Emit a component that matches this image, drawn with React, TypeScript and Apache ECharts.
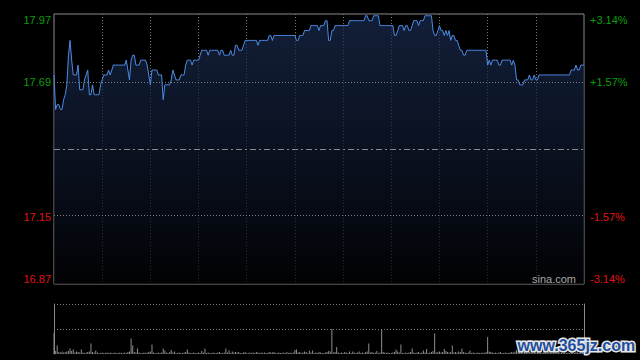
import React, { useEffect, useRef } from "react";
import * as echarts from "echarts";

// ---- reference levels ----
const PREV_CLOSE = 17.42;
const PRICE_MIN = 16.873;
const PRICE_MAX = 17.967;
const PRICE_STEP = 0.2735;
const VOLUME_MAX = 100;
const VOLUME_STEP = 50;

// ---- time categories (HK session, lunch break collapsed) ----
const pad = (n: number) => (n < 10 ? "0" + n : "" + n);
const buildTimes = (): string[] => {
  const out: string[] = [];
  for (let m = 9 * 60 + 30; m <= 12 * 60; m++) out.push(pad(Math.floor(m / 60)) + ":" + pad(m % 60));
  for (let m = 13 * 60 + 1; m <= 16 * 60; m++) out.push(pad(Math.floor(m / 60)) + ":" + pad(m % 60));
  return out;
};
const times = buildTimes();

// ---- minute prices ----
const prices = [
  17.72, 17.58, 17.60, 17.60, 17.58, 17.58, 17.62, 17.64, 17.68, 17.80,
  17.86, 17.78, 17.72, 17.72, 17.72, 17.76, 17.66, 17.66, 17.66, 17.70,
  17.72, 17.74, 17.64, 17.64, 17.68, 17.64, 17.64, 17.64, 17.64, 17.68,
  17.70, 17.72, 17.72, 17.72, 17.74, 17.72, 17.74, 17.76, 17.76, 17.76,
  17.76, 17.76, 17.76, 17.76, 17.76, 17.78, 17.74, 17.70, 17.78, 17.80,
  17.80, 17.76, 17.76, 17.76, 17.78, 17.78, 17.78, 17.78, 17.76, 17.72,
  17.68, 17.74, 17.74, 17.74, 17.74, 17.72, 17.72, 17.72, 17.62, 17.68,
  17.68, 17.68, 17.68, 17.70, 17.74, 17.72, 17.70, 17.70, 17.70, 17.72,
  17.72, 17.72, 17.76, 17.78, 17.78, 17.78, 17.76, 17.78, 17.78, 17.78,
  17.78, 17.80, 17.82, 17.82, 17.82, 17.82, 17.80, 17.82, 17.82, 17.82,
  17.82, 17.82, 17.82, 17.80, 17.82, 17.82, 17.80, 17.80, 17.80, 17.80,
  17.82, 17.80, 17.80, 17.84, 17.84, 17.82, 17.82, 17.82, 17.84, 17.86,
  17.86, 17.86, 17.86, 17.86, 17.86, 17.86, 17.86, 17.84, 17.86, 17.86,
  17.86, 17.86, 17.86, 17.86, 17.88, 17.88, 17.86, 17.88, 17.88, 17.88,
  17.88, 17.88, 17.88, 17.88, 17.88, 17.88, 17.88, 17.88, 17.88, 17.88,
  17.88, 17.86, 17.86, 17.88, 17.88, 17.88, 17.90, 17.90, 17.90, 17.90,
  17.92, 17.92, 17.92, 17.92, 17.92, 17.90, 17.92, 17.92, 17.92, 17.94,
  17.94, 17.86, 17.86, 17.90, 17.90, 17.92, 17.92, 17.92, 17.92, 17.92,
  17.92, 17.92, 17.92, 17.92, 17.94, 17.94, 17.94, 17.94, 17.94, 17.94,
  17.94, 17.94, 17.94, 17.94, 17.96, 17.96, 17.94, 17.94, 17.94, 17.96,
  17.96, 17.96, 17.96, 17.92, 17.92, 17.92, 17.92, 17.92, 17.92, 17.92,
  17.92, 17.92, 17.88, 17.88, 17.90, 17.92, 17.92, 17.92, 17.90, 17.92,
  17.92, 17.90, 17.90, 17.92, 17.94, 17.94, 17.94, 17.92, 17.94, 17.94,
  17.94, 17.96, 17.96, 17.96, 17.96, 17.96, 17.90, 17.88, 17.88, 17.90,
  17.92, 17.90, 17.90, 17.88, 17.90, 17.88, 17.90, 17.86, 17.88, 17.88,
  17.86, 17.86, 17.84, 17.82, 17.82, 17.80, 17.80, 17.82, 17.82, 17.82,
  17.82, 17.82, 17.82, 17.82, 17.82, 17.82, 17.82, 17.82, 17.82, 17.82,
  17.76, 17.78, 17.76, 17.78, 17.78, 17.78, 17.78, 17.76, 17.76, 17.78,
  17.78, 17.78, 17.78, 17.78, 17.78, 17.76, 17.78, 17.76, 17.70, 17.70,
  17.68, 17.68, 17.68, 17.70, 17.70, 17.70, 17.72, 17.70, 17.70, 17.72,
  17.70, 17.70, 17.72, 17.72, 17.72, 17.72, 17.72, 17.72, 17.72, 17.72,
  17.72, 17.72, 17.72, 17.72, 17.72, 17.72, 17.72, 17.72, 17.72, 17.72,
  17.72, 17.72, 17.74, 17.74, 17.74, 17.76, 17.74, 17.74, 17.76, 17.76,
  17.76,
];

// ---- minute volumes (relative units) ----
const volumes = [
  42, 6, 17, 4, 3, 5, 3, 4, 5, 6,
  11, 6, 9, 3, 5, 4, 3, 9, 3, 2,
  3, 4, 5, 21, 4, 3, 7, 3, 2, 2,
  3, 2, 2, 3, 2, 3, 2, 2, 3, 2,
  2, 3, 2, 2, 3, 2, 4, 5, 31, 17,
  4, 3, 11, 3, 2, 2, 3, 2, 3, 4,
  5, 19, 3, 2, 2, 3, 2, 3, 11, 7,
  3, 2, 4, 8, 3, 5, 2, 2, 3, 2,
  2, 3, 4, 9, 3, 2, 2, 3, 2, 2,
  3, 2, 6, 3, 11, 2, 3, 2, 2, 3,
  2, 2, 3, 4, 2, 2, 3, 11, 3, 7,
  2, 5, 3, 4, 3, 4, 2, 2, 3, 4,
  2, 2, 3, 2, 3, 2, 4, 3, 2, 3,
  2, 3, 2, 2, 4, 3, 3, 4, 2, 2,
  3, 2, 2, 3, 2, 4, 2, 3, 2, 3,
  8, 9, 3, 4, 2, 3, 5, 4, 2, 7,
  3, 7, 2, 3, 2, 4, 3, 2, 2, 3,
  4, 6, 5, 50, 3, 4, 14, 3, 2, 3,
  2, 4, 3, 2, 5, 2, 5, 3, 2, 3,
  5, 2, 3, 2, 4, 5, 21, 3, 4, 2,
  3, 6, 2, 3, 50, 4, 3, 2, 3, 2,
  2, 3, 4, 9, 5, 3, 19, 2, 2, 3,
  2, 3, 4, 11, 3, 2, 3, 4, 2, 3,
  7, 3, 10, 2, 3, 4, 6, 41, 3, 4,
  5, 3, 4, 10, 6, 4, 3, 4, 17, 3,
  4, 3, 5, 4, 11, 4, 3, 2, 3, 7,
  2, 3, 2, 2, 3, 2, 2, 3, 2, 4,
  34, 5, 4, 3, 2, 3, 2, 3, 4, 2,
  2, 3, 2, 2, 3, 4, 3, 5, 8, 5,
  6, 4, 3, 4, 3, 2, 4, 3, 2, 3,
  2, 3, 4, 2, 2, 3, 2, 2, 3, 2,
  2, 2, 3, 2, 2, 3, 2, 2, 3, 2,
  3, 2, 4, 3, 2, 5, 3, 2, 4, 5,
  6,
];

const UP = "#0b9e0b";
const DOWN = "#e01212";
const FONT = "Arial, 'Liberation Sans', sans-serif";

const priceLabelColor = (v: any) => (parseFloat(v) > PREV_CLOSE + 0.001 ? UP : DOWN);

export default function App() {
  const ref = useRef<HTMLDivElement>(null);

  useEffect(() => {
    if (!ref.current) return;
    const chart = echarts.init(ref.current, undefined, { renderer: "svg" });

    const option: any = {
      animation: false,
      backgroundColor: "#000",
      grid: [
        { left: 54, right: 56, top: 14, height: 270, show: true, borderColor: "#8a8a8a", borderWidth: 1, backgroundColor: "transparent" },
        { left: 54, right: 56, top: 304, height: 50, show: false },
      ],
      xAxis: [
        {
          type: "category",
          gridIndex: 0,
          data: times,
          boundaryGap: false,
          axisLine: { show: false },
          axisTick: { show: false },
          axisLabel: { show: false },
          splitLine: {
            show: true,
            interval: (i: number) => i > 0 && i < times.length - 1 && i % 30 === 0,
            lineStyle: { color: "#7a7a7a", type: [1, 2], width: 1 },
          },
        },
        {
          type: "category",
          gridIndex: 1,
          data: times,
          boundaryGap: false,
          axisLine: { show: false },
          axisTick: { show: false },
          axisLabel: { show: false },
          splitLine: { show: false },
        },
      ],
      yAxis: [
        {
          type: "value",
          gridIndex: 0,
          position: "left",
          min: PRICE_MIN,
          max: PRICE_MAX,
          interval: PRICE_STEP,
          axisLine: { show: false },
          axisTick: { show: false },
          splitLine: { show: false },
          axisLabel: {
            show: true,
            margin: 3,
            fontSize: 11,
            fontFamily: FONT,
            color: priceLabelColor,
            verticalAlignMinLabel: "bottom",
            verticalAlignMaxLabel: "top",
            formatter: (v: number) => (Math.abs(v - PREV_CLOSE) < 0.001 ? "" : v.toFixed(2)),
          },
        },
        {
          type: "value",
          gridIndex: 0,
          position: "right",
          min: PRICE_MIN,
          max: PRICE_MAX,
          interval: PRICE_STEP,
          axisLine: { show: false },
          axisTick: { show: false },
          splitLine: { show: false },
          axisLabel: {
            show: true,
            margin: 6,
            fontSize: 11,
            fontFamily: FONT,
            color: priceLabelColor,
            verticalAlignMinLabel: "bottom",
            verticalAlignMaxLabel: "top",
            formatter: (v: number) => {
              const pct = ((v - PREV_CLOSE) / PREV_CLOSE) * 100;
              if (Math.abs(pct) < 0.01) return "";
              return (pct > 0 ? "+" : "") + pct.toFixed(2) + "%";
            },
          },
        },
        {
          type: "value",
          gridIndex: 1,
          position: "left",
          min: 0,
          max: VOLUME_MAX,
          interval: VOLUME_STEP,
          axisLine: { show: true, lineStyle: { color: "#8a8a8a", width: 1 } },
          axisTick: { show: false },
          axisLabel: { show: false },
          splitLine: { show: true, showMinLine: false, lineStyle: { color: "#7a7a7a", type: [1, 2], width: 1 } },
        },
        {
          type: "value",
          gridIndex: 1,
          position: "right",
          min: 0,
          max: VOLUME_MAX,
          interval: VOLUME_STEP,
          axisLine: { show: true, lineStyle: { color: "#8a8a8a", width: 1 } },
          axisTick: { show: false },
          axisLabel: { show: false },
          splitLine: { show: false },
        },
      ],
      series: [
        {
          type: "line",
          xAxisIndex: 0,
          yAxisIndex: 0,
          data: prices,
          symbol: "none",
          showSymbol: false,
          lineStyle: { color: "#4d8be6", width: 1 },
          areaStyle: {
            origin: "start",
            color: new echarts.graphic.LinearGradient(0, 0, 0, 1, [
              { offset: 0, color: "#1a2c50" },
              { offset: 0.6, color: "#0c1426" },
              { offset: 1, color: "#020306" },
            ]),
          },
          markLine: {
            silent: true,
            symbol: ["none", "none"],
            label: { show: false },
            data: [
              { yAxis: PRICE_MIN + 3 * PRICE_STEP, lineStyle: { color: "#7a7a7a", type: [1, 2], width: 1 } },
              { yAxis: PREV_CLOSE, lineStyle: { color: "#8a8a8a", type: [6, 3, 2, 3], width: 1 } },
              { yAxis: PRICE_MIN + PRICE_STEP, lineStyle: { color: "#7a7a7a", type: [1, 2], width: 1 } },
            ],
          },
          z: 3,
        },
        {
          type: "bar",
          xAxisIndex: 1,
          yAxisIndex: 2,
          data: volumes,
          barWidth: 1,
          itemStyle: { color: "#8c8c8c" },
        },
      ],
      graphic: [
        {
          type: "text",
          left: 532,
          top: 273,
          style: { text: "sina.com", fill: "#a8a8a8", font: "11px " + FONT },
          z: 10,
        },
        {
          type: "text",
          left: 516,
          top: 336,
          style: {
            text: "www.365jz.com",
            fill: "#1f4f9e",
            stroke: "#e6e6e6",
            lineWidth: 3,
            font: "bold 16px " + FONT,
          },
          z: 10,
        },
      ],
    };

    chart.setOption(option);
    return () => chart.dispose();
  }, []);

  return (
    <div
      ref={ref}
      style={{ position: "fixed", left: 0, top: 0, width: 640, height: 360, background: "#000" }}
    />
  );
}
